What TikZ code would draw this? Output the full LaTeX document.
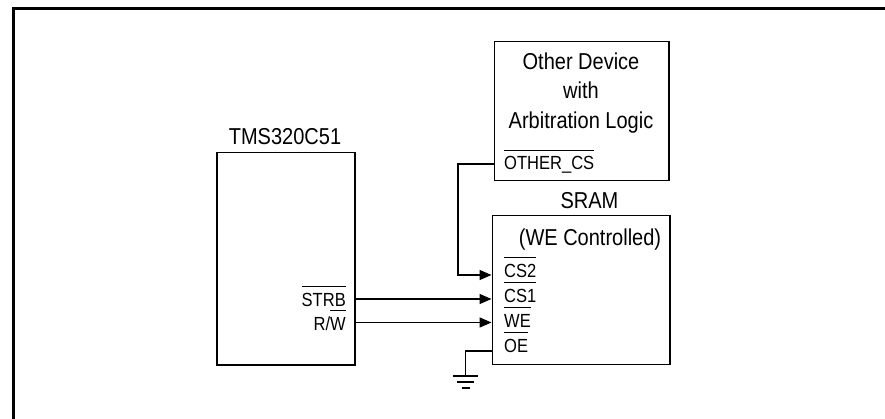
\documentclass[tikz,border=0pt]{standalone}
\usepackage{fontspec}
\setmainfont[FakeStretch=0.87]{Liberation Sans}
\usetikzlibrary{arrows.meta}
\newcommand{\ovl}[1]{\leavevmode\vbox{\hrule height 1pt \kern 6pt \hbox{#1}}}
\tikzset{
  x=1pt,y=-1pt,
  boxnode/.style={draw,line width=1.5pt,inner sep=0pt,anchor=north west},
  title/.style={inner sep=0pt,anchor=base,font=\fontsize{23}{29.5}\selectfont},
  pinl/.style={inner sep=0pt,anchor=base west,font=\fontsize{19}{22}\selectfont},
  pinr/.style={inner sep=0pt,anchor=base east,font=\fontsize{19}{22}\selectfont},
  wire/.style={line width=1.5pt},
  sig/.style={wire,-{Triangle[length=12pt,width=10pt]}},
  frameline/.style={line width=3pt,line cap=butt}
}
\begin{document}
\begin{tikzpicture}
\useasboundingbox (0,0) rectangle (885,419);
\draw[frameline] (13.5,419) -- (13.5,8.5) -- (885,8.5);
% boxes
\node[boxnode,minimum width=138pt,minimum height=212pt] (tms) at (216,152) {};
\node[boxnode,minimum width=174.5pt,minimum height=139pt] (other) at (493.5,41) {};
\node[boxnode,minimum width=177.5pt,minimum height=148.5pt] (sram) at (491.5,215) {};
% titles
\node[title] (tmst) at (285,145) {TMS320C51};
\node[title] (sramt) at (589.5,209) {SRAM};
\node[title,anchor=north,align=center] (othert) at (581,52.5) {Other Device\\with\\Arbitration Logic};
\node[title] (wec) at (590,246) {(WE Controlled)};
% pins
\node[pinl] (ocs) at (504,170) {\ovl{OTHER\_CS}};
\node[pinl] (cs2) at (504,277) {\ovl{CS2}};
\node[pinl] (cs1) at (504,302.5) {\ovl{CS1}};
\node[pinl] (we) at (504,327) {\ovl{WE}};
\node[pinl] (oe) at (504,352.5) {\ovl{OE}};
\node[pinr] (strb) at (346,306) {\ovl{STRB}};
\node[pinr] (rw) at (346,330) {R/\ovl{W}};
% connection points
\coordinate (ocsout) at (493.5,164);
\coordinate (cs2in) at (491.5,275);
\coordinate (strbout) at (354,299);
\coordinate (cs1in) at (491.5,299);
\coordinate (rwout) at (354,322.5);
\coordinate (wein) at (491.5,322.5);
\coordinate (oeout) at (491.5,351);
\coordinate (gnd) at (465.5,376);
% wires
\draw[sig] (ocsout) -- (458,164) -- (458,275) -- (cs2in);
\draw[sig] (strbout) -- (cs1in);
\draw[sig] (rwout) -- (wein);
\draw[wire] (oeout) -- (gnd |- oeout) -- (gnd);
% ground
\draw[wire] ([xshift=-12.5pt]gnd) -- ([xshift=12.5pt]gnd);
\draw[wire] ([xshift=-8.5pt,yshift=-6pt]gnd) -- ([xshift=8.5pt,yshift=-6pt]gnd);
\draw[wire] ([xshift=-4pt,yshift=-12pt]gnd) -- ([xshift=4pt,yshift=-12pt]gnd);
\end{tikzpicture}
\end{document}
